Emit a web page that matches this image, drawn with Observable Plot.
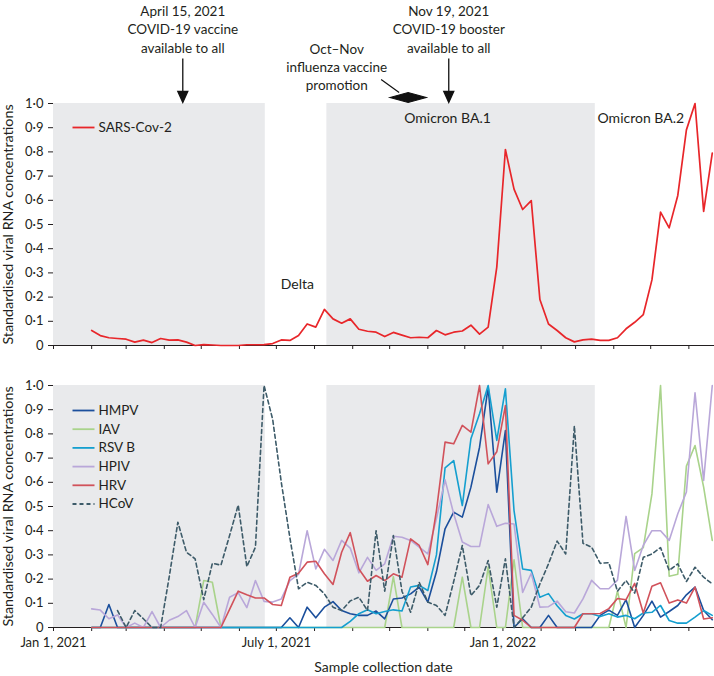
<!DOCTYPE html>
<html><head><meta charset="utf-8">
<script src="https://cdn.jsdelivr.net/npm/d3@7"></script>
<script src="https://cdn.jsdelivr.net/npm/@observablehq/plot@0.6"></script>
<style>
html,body{margin:0;padding:0;background:#fff;}
#chart{width:714px;height:676px;}
#chart svg{display:block;}
</style></head><body><div id="chart"></div>
<script>
// ---------- data ----------
const firstWeek = "2021-02-01";   // weekly samples
const xStart = "2021-01-01", xEnd = "2022-06-21";

const sarsCov2 = [0.062,0.041,0.032,0.029,0.026,0.014,0.022,0.012,0.029,0.022,
 0.023,0.014,0.000,0.004,0.002,0.000,0.000,0.000,0.003,0.003,
 0.004,0.008,0.023,0.021,0.041,0.089,0.076,0.149,0.110,0.092,
 0.110,0.067,0.059,0.055,0.037,0.054,0.043,0.032,0.034,0.032,
 0.062,0.044,0.055,0.060,0.084,0.047,0.076,0.324,0.810,0.646,
 0.562,0.599,0.190,0.089,0.062,0.032,0.015,0.023,0.026,0.021,
 0.021,0.032,0.069,0.096,0.128,0.271,0.551,0.486,0.620,0.891,
 1.000,0.554,0.795];

const hmpv = [0,0,0.095,0,0,0,0,0,0,0,
 0,0,0,0,0,0,0,0,0,0,
 0,0,0,0.04,0,0.084,0.04,0.084,0.107,0.07,
 0.057,0.05,0.05,0.068,0.036,0.118,0.122,0.139,0.167,0.105,
 0.23,0.408,0.477,0.456,0.58,0.745,0.993,0.559,0.814,0,
 0.036,0,0,0.05,0,0,0,0,0,0.05,
 0.072,0.05,0.115,0,0.05,0.109,0.043,0.066,0.091,0.135,
 0.167,0.07,0.032];

const iav = [0,0,0,0,0,0,0,0,0,0,
 0,0,0,0.194,0.187,0,0,0,0,0,
 0,0,0,0,0,0,0,0,0,0,
 0,0,0,0,0,0.21,0,0,0,0,
 0,0,0,0.208,0,0,0.25,0,0,0.28,
 0,0,0,0,0,0,0,0,0,0,
 0,0.15,0,0.305,0.33,0.552,1.0,0.212,0.22,0.667,
 0.752,0.58,0.36];

const rsvB = [0,0,0,0,0,0,0,0,0,0,
 0,0,0,0,0,0,0,0,0,0,
 0,0,0,0,0,0,0,0,0,0,
 0.025,0.057,0.073,0.057,0.066,0.073,0.068,0.167,0.174,0.153,
 0.30,0.66,0.69,0.504,0.78,0.883,1.0,0.773,0.986,0.483,
 0.242,0.236,0.125,0.14,0.09,0.05,0.035,0.057,0.057,0.045,
 0.057,0.043,0.05,0.036,0.06,0.063,0.091,0.029,0.018,0.018,
 0.043,0.07,0.05];

const hpiv = [0.077,0.072,0.036,0.052,0,0.018,0,0.066,0,0.03,
 0.045,0.07,0,0.104,0.054,0,0.125,0.144,0.082,0.194,
 0.108,0.105,0.118,0.194,0.22,0.40,0.242,0.323,0.277,0.36,
 0.328,0.226,0.29,0.236,0.263,0.377,0.373,0.36,0.332,0.304,
 0.45,0.61,0.47,0.353,0.335,0.335,0.508,0.418,0.431,0.428,
 0.145,0.224,0.084,0.086,0.109,0.065,0.06,0.118,0.195,0.16,
 0.16,0.196,0.459,0.236,0.34,0.40,0.40,0.36,0.47,0.56,
 0.97,0.608,1.0];

const hrv = [0,0,0,0,0,0,0,0,0,0,
 0,0,0,0,0,0,0.075,0.15,0.135,0.122,
 0.122,0.095,0.091,0.208,0.224,0.27,0.274,0.222,0.178,0.311,
 0.392,0.242,0.191,0.215,0.194,0.222,0.208,0.366,0.339,0.26,
 0.483,0.766,0.759,0.835,0.807,1.0,0.676,0.726,0.917,0.05,
 0.03,0,0,0,0,0,0,0.057,0.057,0.058,
 0.078,0.12,0.115,0.182,0.06,0.17,0.185,0.101,0.114,0.101,
 0.167,0.035,0.04];

const hcov = [null,null,null,0.07,0,0.07,0.036,0,0,0.21,
 0.435,0.311,0.284,0.115,0.265,0.258,0.38,0.506,0.252,0.332,
 1.0,0.86,0.6,0.37,0.16,0.187,0.174,0.139,0.084,0.07,
 0.11,0.125,0.07,0.40,0.15,0.38,0.15,0.063,0.187,0.105,
 0.091,0.05,0.19,0.339,0.132,0.174,0.277,0.084,0.284,0,
 0.04,0.084,0.18,0.263,0.357,0.304,0.833,0.348,0.332,0.265,
 0.268,0.15,0.194,0.142,0.29,0.304,0.33,0.236,0.263,0.19,
 0.249,0.208,0.18];

const seriesNames = ["HMPV","IAV","RSV B","HPIV","HRV","HCoV"];
const seriesValues = [hmpv, iav, rsvB, hpiv, hrv, hcov];
const seriesColors = ["#1b4f9c","#a9d38b","#159fcf","#b9a7d9","#d1525b","#3d5b69"];
const seriesDash = [null,null,null,null,null,"4,3"];
const drawOrder = ["IAV","HMPV","RSV B","HPIV","HRV","HCoV"];

const shadedPeriods = [
  {start: "2021-01-01", end: "2021-06-22"},
  {start: "2021-08-11", end: "2022-03-17"}
];
const variantLabels = [
  {date: "2021-07-18", value: 0.25, text: "Delta"},
  {date: "2021-11-17", value: 0.94, text: "Omicron BA.1"},
  {date: "2022-04-23", value: 0.94, text: "Omicron BA.2"}
];
const policyNotes = [
  {date: "2021-04-16", text: "April 15, 2021\nCOVID-19 vaccine\navailable to all"},
  {date: "2021-11-18", text: "Nov 19, 2021\nCOVID-19 booster\navailable to all"}
];
const fluNote = {date: "2021-08-19", text: "Oct–Nov\ninfluenza vaccine\npromotion", marker: "2021-10-16"};
const xTickLabels = {"2021-01": "Jan 1, 2021", "2021-07": "July 1, 2021", "2022-01": "Jan 1, 2022"};
const yTickValues = [0,0.1,0.2,0.3,0.4,0.5,0.6,0.7,0.8,0.9,1.0];
const yTitle = "Standardised viral RNA concentrations";
const xTitle = "Sample collection date";

// ---------- helpers ----------
const weekDates = sarsCov2.map((_, i) => d3.utcDay.offset(new Date(firstWeek), 7 * i));
const rowsOf = vals => vals.map((v, i) => ({date: weekDates[i], value: v}));
const monthTicks = d3.utcMonth.range(new Date(xStart), new Date(xEnd));
const bands = shadedPeriods.map(d => ({start: new Date(d.start), end: new Date(d.end)}));
const yFmt = d => d === 0 ? "0" : d.toFixed(1).replace(".", "·");

const lineSymbol = {draw(ctx) { ctx.moveTo(-11, 0); ctx.lineTo(11, 0); }};
const arrowSymbol = {draw(ctx) {
  ctx.moveTo(0, -44); ctx.lineTo(0, -10);
  ctx.moveTo(-5, -11); ctx.lineTo(5, -11); ctx.lineTo(0, 0); ctx.closePath();
}};
const diamondSymbol = {draw(ctx) {
  ctx.moveTo(-18, 0); ctx.lineTo(0, -5); ctx.lineTo(18, 0); ctx.lineTo(0, 5); ctx.closePath();
  ctx.moveTo(-27, -18); ctx.lineTo(-9, -5);
}};

const common = {
  width: 714,
  marginLeft: 53,
  marginRight: 1,
  style: {fontFamily: "Lato, 'Open Sans', sans-serif", fontSize: "13px", color: "#231f20", background: "#fff"},
  y: {domain: [0, 1], ticks: yTickValues, tickFormat: yFmt, tickSize: 5, tickPadding: 5, line: true, label: null},
};
const bandMark = Plot.rect(bands, {x1: "start", x2: "end", y1: 0, y2: 1, fill: "#e9eaec"});
const yTitleMark = Plot.text([yTitle], {frameAnchor: "left", dx: -45, rotate: -90, textAnchor: "middle", lineAnchor: "middle", text: d => d, fontSize: 14.3});

function legendEntry(name, color, dash, dy) {
  return [
    Plot.dot([name], {frameAnchor: "top-left", dx: 30, dy, symbol: lineSymbol, stroke: color, fill: "none", strokeWidth: 1.8, strokeDasharray: dash ?? undefined}),
    Plot.text([name], {frameAnchor: "top-left", dx: 45, dy, text: d => d, textAnchor: "start", lineAnchor: "middle", fontSize: 13.5})
  ];
}

// ---------- top panel ----------
const topChart = Plot.plot({
  ...common,
  height: 360,
  marginTop: 103,
  marginBottom: 15,
  x: {type: "utc", domain: [new Date(xStart), new Date(xEnd)], ticks: monthTicks, tickFormat: () => "", tickSize: 4, line: true, label: null},
  marks: [
    bandMark,
    Plot.line(rowsOf(sarsCov2), {x: "date", y: "value", stroke: "#e8262a", strokeWidth: 1.7}),
    Plot.text(variantLabels, {x: d => new Date(d.date), y: "value", text: "text", fontSize: 14}),
    Plot.text(policyNotes, {x: d => new Date(d.date), frameAnchor: "top", dy: -75, lineAnchor: "middle", textAnchor: "middle", text: "text", lineHeight: 1.38, fontSize: 13.5}),
    Plot.dot(policyNotes, {x: d => new Date(d.date), frameAnchor: "top", dy: -1, symbol: arrowSymbol, fill: "#111", stroke: "#111", strokeWidth: 1.3}),
    Plot.text([fluNote], {x: d => new Date(d.date), frameAnchor: "top", dy: -37, lineAnchor: "middle", textAnchor: "middle", text: "text", lineHeight: 1.32, fontSize: 13.5}),
    Plot.dot([fluNote], {x: d => new Date(d.marker), frameAnchor: "top", dy: -6, symbol: diamondSymbol, fill: "#111", stroke: "#111", strokeWidth: 1.2}),
    ...legendEntry("SARS-Cov-2", "#e8262a", null, 24),
    yTitleMark
  ]
});

// ---------- bottom panel ----------
const lineMarks = drawOrder.map(name => {
  const i = seriesNames.indexOf(name);
  return Plot.line(rowsOf(seriesValues[i]), {
    x: "date", y: "value", stroke: seriesColors[i], strokeWidth: 1.6,
    strokeDasharray: seriesDash[i] ?? undefined
  });
});
const legendMarks = seriesNames.flatMap((name, i) => legendEntry(name, seriesColors[i], seriesDash[i], 25 + i * 18.7));

const bottomChart = Plot.plot({
  ...common,
  height: 316,
  marginTop: 25,
  marginBottom: 49,
  x: {type: "utc", domain: [new Date(xStart), new Date(xEnd)], ticks: monthTicks,
      tickFormat: d => xTickLabels[d3.utcFormat("%Y-%m")(d)] ?? "", tickSize: 4, tickPadding: 6, line: true, label: null},
  marks: [
    bandMark,
    ...lineMarks,
    ...legendMarks,
    yTitleMark,
    Plot.text([xTitle], {frameAnchor: "bottom", dy: 40, lineAnchor: "middle", textAnchor: "middle", text: d => d, fontSize: 14})
  ]
});

document.getElementById("chart").append(topChart, bottomChart);
</script>
</body></html>
